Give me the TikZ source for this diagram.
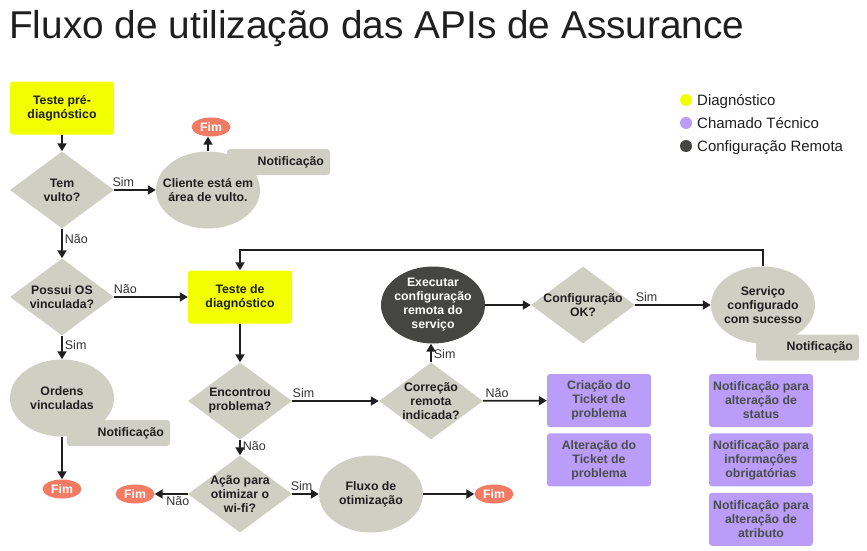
\documentclass[tikz,border=0pt]{standalone}
\usepackage{fontspec}
\setmainfont{Liberation Sans}
\usepackage{tikz}
\usetikzlibrary{arrows.meta,positioning,shapes.geometric}
\usepackage{xcolor}
\definecolor{Lima}{HTML}{F2FF00}
\definecolor{Areia}{HTML}{D0CFC4}
\definecolor{Coral}{HTML}{F47B63}
\definecolor{Lilas}{HTML}{B99DF9}
\definecolor{Grafite}{HTML}{454542}
\definecolor{Tinta}{HTML}{1F1F1F}
\newcommand{\fntno}{\fontsize{12.3}{14}\selectfont\bfseries}
\newcommand{\fntrot}{\fontsize{12.5}{14}\selectfont}
\tikzset{
  caixa/.style={rounded corners=3pt, minimum width=104pt, minimum height=53pt,
    align=center, font=\fntno, text=Tinta, inner sep=2pt, fill=#1},
  caixa/.default={Lima},
  ticket/.style={caixa=Lilas, text=black!70},
  decisao/.style={diamond, fill=Areia, minimum width=104pt, minimum height=77pt,
    inner xsep=-8pt, inner ysep=-5pt, align=center, font=\fntno, text=Tinta},
  etapa/.style={ellipse, fill=#1, minimum width=104pt, minimum height=77pt,
    inner xsep=-14pt, inner ysep=-12pt, align=center, font=\fntno, text=Tinta},
  etapa/.default={Areia},
  notif/.style={rounded corners=3pt, fill=Areia, minimum width=103pt, minimum height=26pt,
    align=right, text width=91pt, inner sep=6pt, font=\fntno, text=Tinta},
  fim/.style={ellipse, fill=Coral, minimum width=39pt, minimum height=19pt, inner sep=0pt,
    font=\fntno, text=white},
  seta/.style={-{Triangle[length=8pt,width=9pt]}, line width=1.8pt, draw=Tinta},
  rotulo/.style={font=\fntrot, text=black!80, inner sep=2pt},
  legenda/.style={font=\fontsize{15}{17}\selectfont, text=Tinta, anchor=base west, inner sep=0pt},
}

\begin{document}
\begin{tikzpicture}[x=1pt, y=-1pt]
  \useasboundingbox (0,0) rectangle (867,551);

  \node[anchor=base west, inner sep=0pt, font=\fontsize{38.8}{40}\selectfont, text=Tinta]
    (titulo) at (9,38) {Fluxo de utilização das APIs de Assurance};

  % legenda
  \fill[Lima] (686,100) circle (6pt);
  \node[legenda] (leg1) at (697,105.5) {Diagnóstico};
  \fill[Lilas] (686,123) circle (6pt);
  \node[legenda] (leg2) at (697,128.5) {Chamado Técnico};
  \fill[Grafite] (686,146) circle (6pt);
  \node[legenda] (leg3) at (697,151.5) {Configuração Remota};

  % coluna da esquerda
  \node[caixa] (pre) at (62,108) {Teste pré-\\diagnóstico};
  \node[decisao] (vulto) at (62,190) {Tem\\vulto?};
  \node[notif] (notif1) at (278.5,162) {Notificação};
  \node[etapa] (cliente) at (208,190) {Cliente está em\\área de vulto.};
  \node[fim] (fim1) at (211,127) {Fim};
  \node[decisao] (possui) at (62,297) {Possui OS\\vinculada?};
  \node[notif] (notif2) at (118.5,433) {Notificação};
  \node[etapa] (ordens) at (62,398) {Ordens\\vinculadas};
  \node[fim] (fim2) at (62,489) {Fim};

  % diagnostico
  \node[caixa] (diag) at (240,297) {Teste de\\diagnóstico};
  \node[decisao] (encontrou) at (240,401) {Encontrou\\problema?};
  \node[decisao] (acao) at (240,494) {Ação para\\otimizar o\\wi-fi?};
  \node[fim] (fim3) at (135,494) {Fim};
  \node[etapa] (otim) at (371,494) {Fluxo de\\otimização};
  \node[fim] (fim4) at (494,494) {Fim};

  % configuracao remota
  \node[decisao] (correcao) at (431,401) {Correção\\remota\\indicada?};
  \node[etapa=Grafite, text=white] (executar) at (433,305)
    {Executar\\configuração\\remota do\\serviço};
  \node[decisao] (confok) at (583,305) {Configuração\\OK?};
  \node[notif] (notif3) at (807.5,347.5) {Notificação};
  \node[etapa] (sucesso) at (763,305) {Serviço\\configurado\\com sucesso};

  % chamados
  \node[ticket] (criacao) at (599,400.5) {Criação do\\Ticket de\\problema};
  \node[ticket, below=6pt of criacao] (alteracao) {Alteração do\\Ticket de\\problema};
  \node[ticket] (status) at (761,400.5) {Notificação para\\alteração de\\status};
  \node[ticket, below=6pt of status] (info) {Notificação para\\informações\\obrigatórias};
  \node[ticket, below=6pt of info] (atributo) {Notificação para\\alteração de\\atributo};

  \draw[seta] (pre) -- (vulto);
  \draw[seta] (vulto) -- node[rotulo, above, pos=0.22] {Sim} (cliente);
  \draw[seta] (cliente.north) -- (fim1.south -| cliente.north);
  \draw[seta] (vulto) -- node[rotulo, right, pos=0.35] {Não} (possui);
  \draw[seta] (possui) -- node[rotulo, above, pos=0.15] {Não} (diag);
  \draw[seta] (possui) -- node[rotulo, right, pos=0.4] {Sim} (ordens);
  \draw[seta] (ordens) -- (fim2);
  \draw[seta] (diag) -- (encontrou);
  \draw[seta] (encontrou) -- node[rotulo, right, pos=0.4] {Não} (acao);
  \draw[seta] (acao) -- node[rotulo, below, pos=0.3] {Não} (fim3);
  \draw[seta] (acao) -- node[rotulo, above, pos=0.35] {Sim} (otim);
  \draw[seta] (otim) -- (fim4);
  \draw[seta] (encontrou) -- node[rotulo, above, pos=0.13] {Sim} (correcao);
  \draw[seta] (correcao) -- node[rotulo, above, pos=0.22] {Não} (criacao);
  \draw[seta] (correcao) -- node[rotulo, right, pos=0.45] {Sim} (executar.south -| correcao.north);
  \draw[seta] (executar) -- (confok);
  \draw[seta] (confok) -- node[rotulo, above, pos=0.15] {Sim} (sucesso);
  \draw[seta] (sucesso.north) -- ++(0,-16) -| (diag.north);
\end{tikzpicture}
\end{document}
